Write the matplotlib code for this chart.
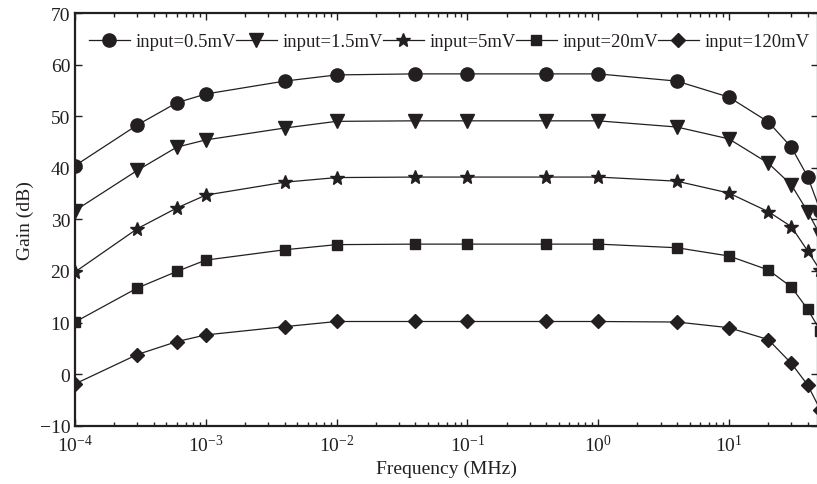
import matplotlib

matplotlib.use("Agg")
import matplotlib.pyplot as plt
from matplotlib.ticker import LogLocator, NullFormatter

# --- data ---
freq_mhz = [1e-4, 3e-4, 6e-4, 1e-3, 4e-3, 1e-2, 4e-2, 1e-1, 4e-1, 1, 4, 10, 20, 30, 40, 50]

gain_05mv = [40.4, 48.3, 52.6, 54.3, 56.8, 58.0, 58.2, 58.2, 58.2, 58.2, 56.8, 53.7, 48.9, 44.0, 38.3, 31.7]
gain_15mv = [31.7, 39.5, 44.0, 45.4, 47.7, 49.0, 49.1, 49.1, 49.1, 49.1, 47.9, 45.6, 40.9, 36.7, 31.5, 26.9]
gain_5mv = [19.8, 28.2, 32.2, 34.7, 37.2, 38.1, 38.2, 38.2, 38.2, 38.2, 37.4, 35.1, 31.5, 28.6, 23.9, 20.1]
gain_20mv = [10.1, 16.7, 19.9, 22.1, 24.1, 25.1, 25.2, 25.2, 25.2, 25.2, 24.5, 22.9, 20.2, 16.9, 12.6, 8.4]
gain_120mv = [-1.9, 3.8, 6.3, 7.6, 9.2, 10.2, 10.2, 10.2, 10.2, 10.2, 10.1, 9.0, 6.7, 2.1, -2.1, -6.9]

series_labels = ["input=0.5mV", "input=1.5mV", "input=5mV", "input=20mV", "input=120mV"]
y_ticks = [-10, 0, 10, 20, 30, 40, 50, 60, 70]

INK = "#231f20"
plt.rcParams["font.family"] = ["Liberation Serif", "DejaVu Serif"]
plt.rcParams["mathtext.fontset"] = "stix"
plt.rcParams["axes.unicode_minus"] = True

fig = plt.figure(figsize=(8.17, 4.85), dpi=100)
ax = fig.add_axes([0.0918, 0.1202, 0.9094, 0.8509])

styles = [("o", 9.5), ("v", 10.0), ("*", 10.5), ("s", 7.2), ("D", 7.5)]
all_series = [gain_05mv, gain_15mv, gain_5mv, gain_20mv, gain_120mv]

for values, label, (marker, ms) in zip(all_series, series_labels, styles):
    ax.plot(freq_mhz, values, color=INK, linewidth=0.9, marker=marker,
            markersize=ms, markerfacecolor=INK, markeredgecolor=INK,
            label=label)

ax.set_xscale("log")
ax.set_xlim(1e-4, 48)
ax.set_ylim(-10, 70)
ax.set_yticks(y_ticks)
ax.xaxis.set_minor_locator(LogLocator(base=10, subs=range(2, 10), numticks=20))
ax.xaxis.set_minor_formatter(NullFormatter())

ax.tick_params(axis="both", which="both", direction="in", top=True, right=True,
               colors=INK, labelcolor=INK, labelsize=14, width=1.0)
ax.tick_params(axis="both", which="major", length=5)
ax.tick_params(axis="x", which="minor", length=3)
ax.tick_params(axis="x", which="major", pad=6)

for spine in ax.spines.values():
    spine.set_linewidth(1.6)
    spine.set_color(INK)

ax.set_xlabel("Frequency (MHz)", fontsize=14, color=INK, labelpad=3)
ax.set_ylabel("Gain (dB)", fontsize=14, color=INK, labelpad=4)

ax.legend(loc="upper left", bbox_to_anchor=(0.006, 0.974), ncol=5, frameon=False,
          fontsize=13.4, handlelength=2.2, columnspacing=0.0, handletextpad=0.3,
          borderaxespad=0.3, borderpad=0.2, labelcolor=INK)

fig.savefig("out.png", dpi=100)
